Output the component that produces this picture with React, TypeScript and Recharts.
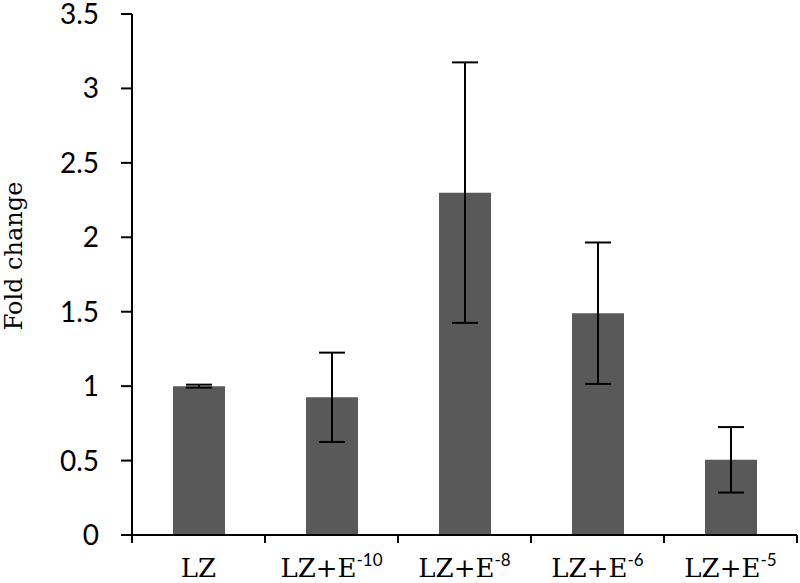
import React from 'react';
import { BarChart, Bar, XAxis, YAxis, ErrorBar, Label } from 'recharts';

// categories: base label + superscript exponent
const bases = ['LZ', 'LZ+E', 'LZ+E', 'LZ+E', 'LZ+E'];
const exponents = ['', '-10', '-8', '-6', '-5'];
const foldChange = [1.0, 0.925, 2.3, 1.49, 0.505];
const errors = [0.01, 0.3, 0.875, 0.475, 0.22];
const yTicks = [0, 0.5, 1, 1.5, 2, 2.5, 3, 3.5];

const data = bases.map((b, i) => ({
  name: b + exponents[i],
  value: foldChange[i],
  err: errors[i],
}));

const W = 800;
const H = 583;
const PLOT_LEFT = 132;
const PLOT_RIGHT = 797;
const BAND = (PLOT_RIGHT - PLOT_LEFT) / data.length;
const SERIF = "'DejaVu Serif', 'Liberation Serif', serif";

function CategoryTick(props: any) {
  const { x, y, index } = props;
  const left = x - BAND / 2;
  return (
    <g>
      <line x1={left} x2={left} y1={y - 8} y2={y} stroke="#000" strokeWidth={2} />
      {index === data.length - 1 && (
        <line x1={x + BAND / 2} x2={x + BAND / 2} y1={y - 8} y2={y} stroke="#000" strokeWidth={2} />
      )}
      <text x={x} y={y + 34} textAnchor="middle" style={{ fontFamily: SERIF, fontSize: 26, fill: '#000' }}>
        <tspan>{bases[index]}</tspan>
        {exponents[index] && (
          <tspan dy={-11} style={{ fontSize: 17, fontFamily: 'Lato, sans-serif' }}>{exponents[index]}</tspan>
        )}
      </text>
    </g>
  );
}

function YLabel() {
  return (
    <text
      transform="translate(22,256) rotate(-90)"
      textAnchor="middle"
      style={{ fontFamily: SERIF, fontSize: 24, fill: '#000' }}
    >
      Fold change
    </text>
  );
}

export default function App() {
  return (
    <div style={{ width: W, height: H, position: 'absolute', left: 0, top: 0, background: '#fff' }}>
      <style>{'body{margin:0}'}</style>
      <BarChart width={W} height={H} data={data} margin={{ top: 14, right: W - PLOT_RIGHT, left: 0, bottom: 0 }}>
        <XAxis
          dataKey="name"
          height={48}
          tickLine={false}
          tickSize={8}
          tickMargin={0}
          axisLine={{ stroke: '#000', strokeWidth: 2 }}
          tick={<CategoryTick />}
          interval={0}
        />
        <YAxis
          width={PLOT_LEFT}
          domain={[0, 3.5]}
          ticks={yTicks}
          interval={0}
          tickSize={11}
          tickMargin={22}
          axisLine={{ stroke: '#000', strokeWidth: 2 }}
          tickLine={{ stroke: '#000', strokeWidth: 2 }}
          tick={{ fill: '#000', fontSize: 28, fontFamily: 'Lato, sans-serif' }}
        >
          <Label content={<YLabel />} />
        </YAxis>
        <Bar dataKey="value" fill="#595959" barSize={52} isAnimationActive={false}>
          <ErrorBar dataKey="err" width={13} stroke="#000" strokeWidth={2} direction="y" isAnimationActive={false} />
        </Bar>
      </BarChart>
    </div>
  );
}
